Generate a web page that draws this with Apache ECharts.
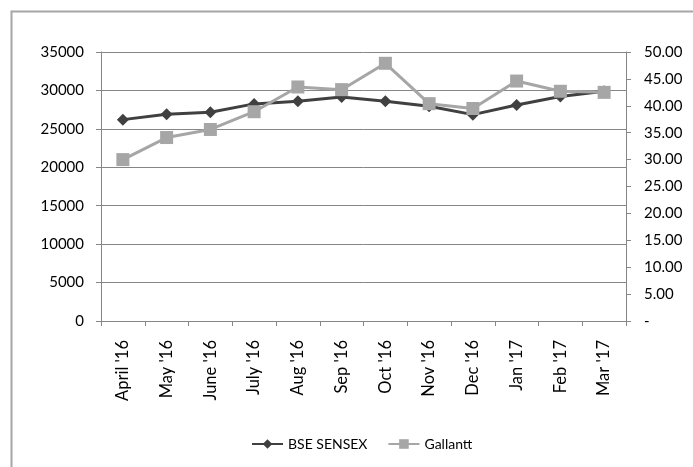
<!DOCTYPE html>
<html><head><meta charset="utf-8">
<script src="https://cdn.jsdelivr.net/npm/echarts@6/dist/echarts.min.js"></script>
<style>html,body{margin:0;padding:0;background:#fff}#c{width:693px;height:467px}</style>
</head><body><div id="c"></div>
<script>
const categories = ["April '16","May '16","June '16","July '16","Aug '16","Sep '16","Oct '16","Nov '16","Dec '16","Jan '17","Feb '17","Mar '17"];
const sensex = [26200, 26900, 27150, 28250, 28600, 29150, 28600, 27950, 26850, 28100, 29200, 29900];
const gallantt = [30.0, 34.1, 35.6, 38.9, 43.5, 43.0, 47.9, 40.4, 39.5, 44.6, 42.7, 42.5];
const leftTicks = [0, 35000, 5000];
const rightTicks = [0, 50, 5];

const font = "Lato, 'Open Sans', sans-serif";
const fs = 15;
const chart = echarts.init(document.getElementById('c'));
chart.setOption({
  animation: false,
  backgroundColor: '#fff',
  graphic: [{type:'rect', left: 9, top: 9, shape:{width: 720, height: 500}, style:{fill:'none', stroke:'#a6a6a6', lineWidth:2}, silent:true}],
  grid: {left: 101, right: 67, top: 52, bottom: 146, containLabel: false},
  legend: {
    bottom: 11, left: 246, itemWidth: 31, itemHeight: 12, itemGap: 20,
    textStyle: {fontFamily: font, fontSize: 14, color: '#000'},
    data: ['BSE SENSEX', 'Gallantt']
  },
  xAxis: {
    type: 'category', data: categories, boundaryGap: true,
    axisLine: {lineStyle: {color: '#868686'}},
    axisTick: {show: true, length: 5, lineStyle: {color: '#868686'}},
    axisLabel: {rotate: 90, fontFamily: font, fontSize: 16.5, color: '#000', margin: 19, interval: 0}
  },
  yAxis: [{
    type: 'value', min: leftTicks[0], max: leftTicks[1], interval: leftTicks[2],
    axisLine: {show: true, lineStyle: {color: '#868686'}},
    axisTick: {show: true, length: 5, lineStyle: {color: '#868686'}},
    splitLine: {lineStyle: {color: '#868686'}},
    axisLabel: {fontFamily: font, fontSize: fs, color: '#000', margin: 17, formatter: v => String(v)}
  }, {
    type: 'value', min: rightTicks[0], max: rightTicks[1], interval: rightTicks[2],
    axisLine: {show: true, lineStyle: {color: '#868686'}},
    axisTick: {show: true, length: 5, lineStyle: {color: '#868686'}},
    splitLine: {show: false},
    axisLabel: {fontFamily: font, fontSize: fs, color: '#000', margin: 18,
      formatter: v => v === 0 ? '-' : v.toFixed(2)}
  }],
  series: [{
    name: 'BSE SENSEX', type: 'line', yAxisIndex: 0, data: sensex,
    symbol: 'diamond', symbolSize: 12,
    lineStyle: {color: '#404040', width: 3}, itemStyle: {color: '#404040'}, z: 3
  }, {
    name: 'Gallantt', type: 'line', yAxisIndex: 1, data: gallantt,
    symbol: 'rect', symbolSize: 13,
    lineStyle: {color: '#a6a6a6', width: 3}, itemStyle: {color: '#a6a6a6'}, z: 4
  }]
});
</script></body></html>
